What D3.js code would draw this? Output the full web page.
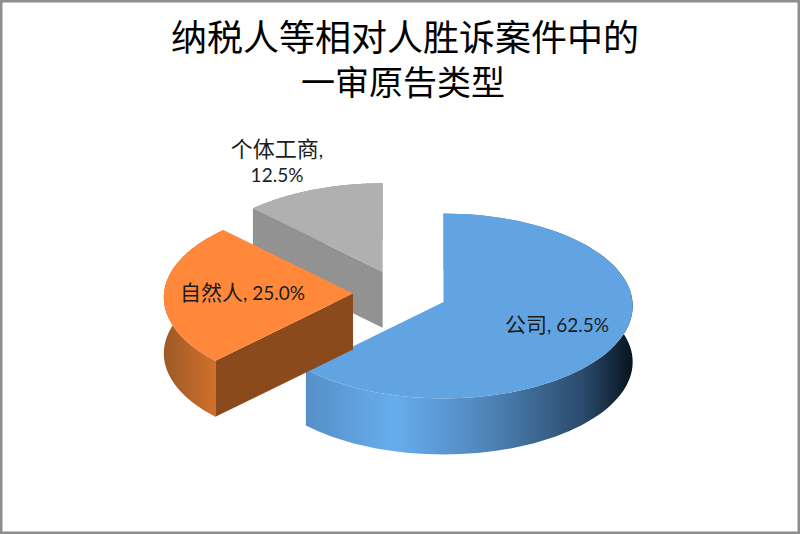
<!DOCTYPE html>
<html><head><meta charset="utf-8">
<script src="https://cdn.jsdelivr.net/npm/d3@7/dist/d3.min.js"></script>
<style>html,body{margin:0;padding:0;background:#fff}svg{display:block}</style>
</head><body><svg id="c" width="800" height="534"></svg>
<script>
const categories = ["公司", "自然人", "个体工商"];
const values = [62.5, 25.0, 12.5];
const titleLines = ["纳税人等相对人胜诉案件中的", "一审原告类型"];

const topColors = ["#62a4e2", "#ff883a", "#b0b0b0"];
const faceColors = ["#3f74a8", "#8a4a1c", "#929292"];
const explode = [46, 48, 48];
const labelPos = [[557, 325, 1], [242.5, 293, 1], [277, 157, 2]];
const wallStops = [
  [[0, "#558fc7"], [.27, "#67adee"], [.55, "#4f86ba"], [.85, "#2a4a6c"], [1, "#08131e"]],
  [[0, "#9c5a26"], [1, "#d0702c"]],
  [[0, "#929292"], [1, "#929292"]]
];
const CX = 401, CY = 293.5, R = 189, TILT = 0.489, PERSP = 0.042, DEPTH = 56;

const svg = d3.select("#c");
const defs = svg.append("defs");
svg.append("rect").attr("width", 800).attr("height", 534).attr("fill", "#fff")
  .attr("stroke", "#8e8e8e").attr("stroke-width", 5);

const arcs = d3.pie().sort(null).startAngle(0).endAngle(2 * Math.PI)(values);

function project(a, r, c) {
  const px = Math.sin(a) * r, py = -Math.cos(a) * r;
  const s = 1 + PERSP * py;
  return [c[0] + R * px * s, c[1] + R * TILT * py * s];
}
function arcPts(d, c) {
  const n = 90, t = d3.scaleLinear().domain([0, n]).range([d.startAngle, d.endAngle]);
  return d3.range(n + 1).map(i => project(t(i), 1, c));
}
const line = d3.line();

const slices = arcs.map((d, i) => {
  const mid = (d.startAngle + d.endAngle) / 2;
  const c = [CX + explode[i] * Math.sin(mid), CY - explode[i] * Math.cos(mid) * TILT];
  return {d, i, c};
});

function drawSlice(o) {
  const {d, i, c} = o;
  const pts = arcPts(d, c);
  const g = svg.append("g");
  const visible = pts.filter((p, k) => Math.cos(d.startAngle + (d.endAngle - d.startAngle) * k / 90) < 0.1);
  const vx = d3.extent(visible.length ? visible : pts, p => p[0]);
  const gr = defs.append("linearGradient").attr("id", "wall" + i)
    .attr("gradientUnits", "userSpaceOnUse")
    .attr("x1", vx[0]).attr("x2", vx[1]).attr("y1", 0).attr("y2", 0);
  wallStops[i].forEach(s => gr.append("stop").attr("offset", s[0]).attr("stop-color", s[1]));
  const low = pts.map(p => [p[0], p[1] + DEPTH]).reverse();
  g.append("path").attr("d", line(pts.concat(low)) + "Z").attr("fill", `url(#wall${i})`);
  const s0 = pts[0];
  if (i > 0) {
    g.append("path").attr("d", line([c, s0, [s0[0], s0[1] + DEPTH], [c[0], c[1] + DEPTH]]) + "Z")
      .attr("fill", faceColors[i]);
  }
  g.append("path").attr("d", line([c].concat(pts)) + "Z").attr("fill", topColors[i]);
}
[slices[2], slices[0], slices[1]].forEach(drawSlice);

const cjk = "'Noto Sans CJK SC', sans-serif";
const font = "Lato, 'Noto Sans CJK SC', sans-serif";
const titleFont = "'Liberation Sans', 'Noto Sans CJK SC', sans-serif";
[[405, 51, 36], [403, 95, 34]].forEach((p, i) => {
  svg.append("text").attr("text-anchor", "middle").attr("font-family", titleFont)
    .attr("x", p[0]).attr("y", p[1]).attr("font-size", p[2]).attr("fill", "#000").text(titleLines[i]);
});

arcs.forEach((d, i) => {
  const [x, y, lines] = labelPos[i];
  const cat = categories[i], val = values[i].toFixed(1) + "%";
  const t = svg.append("text").attr("text-anchor", "middle").attr("font-family", font)
    .attr("font-size", 19).attr("fill", "#1c1c1c");
  if (lines === 2) {
    const a = t.append("tspan").attr("x", x).attr("y", y);
    a.append("tspan").attr("font-size", 22).attr("font-family", cjk).text(cat);
    a.append("tspan").text(",");
    t.append("tspan").attr("x", x).attr("y", y + 25).text(val);
  } else {
    const a = t.append("tspan").attr("x", x).attr("y", y + 7);
    a.append("tspan").attr("font-size", 21).attr("font-family", cjk).text(cat);
    a.append("tspan").text(", " + val);
  }
});
</script></body></html>
